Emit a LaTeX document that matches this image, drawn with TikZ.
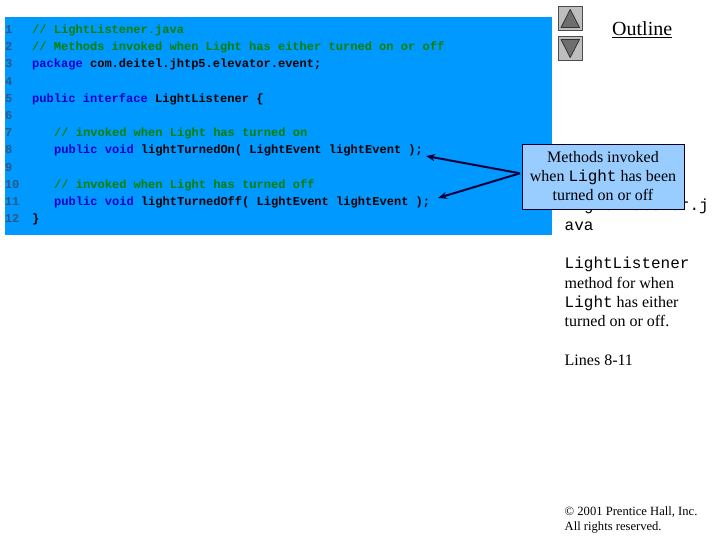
\documentclass[tikz,border=0pt]{standalone}
\usepackage{fontspec}
\setmainfont{Liberation Serif}
\setmonofont{Liberation Mono}
\usetikzlibrary{arrows.meta}
\definecolor{panelblue}{RGB}{0,153,255}
\definecolor{calloutblue}{RGB}{153,204,255}
\definecolor{numgray}{RGB}{45,90,135}
\definecolor{cmtgreen}{RGB}{0,128,0}
\definecolor{kwblue}{RGB}{0,0,204}
\definecolor{navyline}{RGB}{0,0,60}
\definecolor{btnface}{RGB}{190,190,190}
\definecolor{btnglyph}{RGB}{110,110,110}
\newcommand{\cmt}[1]{\textcolor{cmtgreen}{#1}}
\newcommand{\kw}[1]{\textcolor{kwblue}{#1}}
\tikzset{
  codeline/.style={anchor=base west,inner sep=0pt,font=\ttfamily\bfseries\fontsize{12.05}{14}\selectfont},
  numline/.style={anchor=base east,inner sep=0pt,text=numgray,font=\ttfamily\bfseries\fontsize{12.05}{14}\selectfont},
  sidetext/.style={anchor=base west,inner sep=0pt,font=\fontsize{16}{19}\selectfont},
  sidemono/.style={anchor=base west,inner sep=0pt,font=\ttfamily\fontsize{16}{19}\selectfont},
  foottext/.style={anchor=base west,inner sep=0pt,font=\fontsize{12.6}{16}\selectfont},
  btn/.style={draw=black!70,fill=btnface,line width=0.8pt},
  glyph/.style={draw=black!80,fill=btnglyph,line width=0.8pt,line join=round},
  callout/.style={draw=black!85!blue,fill=calloutblue,line width=0.7pt,minimum width=162pt,minimum height=65pt,inner sep=0pt,align=center,font=\fontsize{16}{19}\selectfont},
  pointer/.style={draw=navyline,line width=2pt,-{Stealth[length=9pt,width=7pt]}}
}
\begin{document}
\begin{tikzpicture}[x=1pt,y=-1pt]
\useasboundingbox (0,0) rectangle (720,540);
\fill[white] (0,0) rectangle (720,540);
\fill[panelblue] (5,17) rectangle (552,235);
% line numbers
\node[numline] (n1) at (12.5,33.5) {1};
\node[numline] (n2) at (12.5,50.7) {2};
\node[numline] (n3) at (12.5,67.9) {3};
\node[numline] (n4) at (12.5,85.1) {4};
\node[numline] (n5) at (12.5,102.3) {5};
\node[numline] (n6) at (12.5,119.5) {6};
\node[numline] (n7) at (12.5,136.7) {7};
\node[numline] (n8) at (12.5,153.9) {8};
\node[numline] (n9) at (12.5,171.1) {9};
\node[numline] (n10) at (19.5,188.3) {10};
\node[numline] (n11) at (19.5,205.5) {11};
\node[numline] (n12) at (19.5,222.7) {12};
% code
\node[codeline] (c1) at (32,33.5) {\cmt{// LightListener.java}};
\node[codeline] (c2) at (32,50.7) {\cmt{// Methods invoked when Light has either turned on or off}};
\node[codeline] (c3) at (32,67.9) {\kw{package} com.deitel.jhtp5.elevator.event;};
\node[codeline] (c5) at (32,102.3) {\kw{public interface} LightListener \{};
\node[codeline] (c7) at (54,136.7) {\cmt{// invoked when Light has turned on}};
\node[codeline] (c8) at (54,153.9) {\kw{public void} lightTurnedOn( LightEvent lightEvent );};
\node[codeline] (c10) at (54,188.3) {\cmt{// invoked when Light has turned off}};
\node[codeline] (c11) at (54,205.5) {\kw{public void} lightTurnedOff( LightEvent lightEvent );};
\node[codeline] (c12) at (32,222.7) {\}};
% navigation buttons
\draw[btn] (558.5,6.5) rectangle (582,30.5);
\draw[glyph] (570.2,9.5) -- (561,27.5) -- (579.5,27.5) -- cycle;
\draw[btn] (558.5,36.5) rectangle (582,60.5);
\draw[glyph] (561,39.5) -- (579.5,39.5) -- (570.2,57.5) -- cycle;
\node[anchor=base west,inner sep=0pt,font=\fontsize{20}{24}\selectfont] (outline) at (612,36) {\underline{Outline}};
% side text
\node[sidemono] (s1) at (564.5,211) {LightListener.j};
\node[sidemono] (s2) at (564.5,230) {ava};
\node[sidemono] (s3) at (564.5,268) {LightListener};
\node[sidetext] (s4) at (564.5,288) {method for when};
\node[sidetext] (s5) at (564.5,307) {\texttt{Light} has either};
\node[sidetext] (s6) at (564.5,326) {turned on or off.};
\node[sidetext] (s7) at (564.5,365) {Lines 8-11};
\node[foottext] (f1) at (564.5,515) {© 2001 Prentice Hall, Inc.};
\node[foottext] (f2) at (564.5,530) {All rights reserved.};
% callout
\node[callout] (box) at (603,176.5) {Methods invoked\\when \texttt{Light} has been\\turned on or off};
\coordinate (tipa) at (426,156);
\coordinate (tipb) at (438,198);
\coordinate (fromb) at (520,173.3);
\draw[pointer] (fromb) -- (tipa);
\draw[pointer] (fromb) -- (tipb);
\end{tikzpicture}
\end{document}
